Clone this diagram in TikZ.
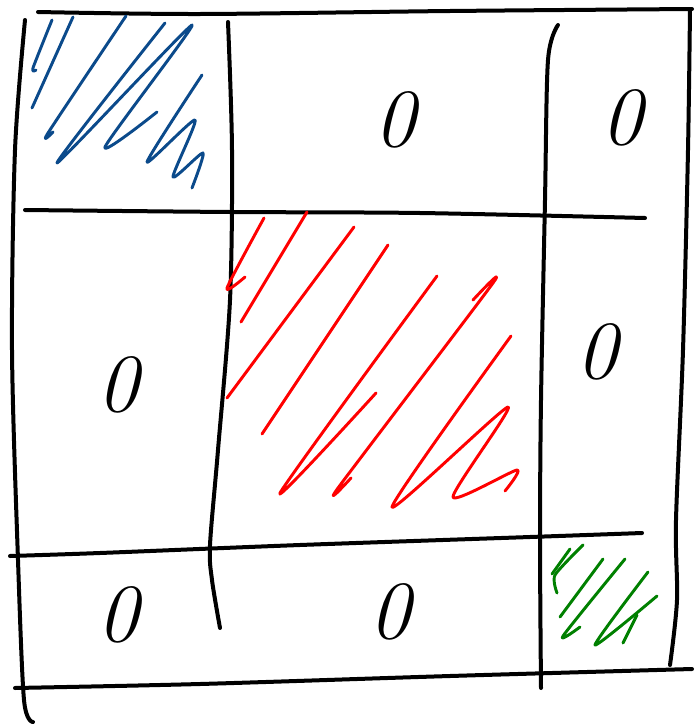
\documentclass[tikz,border=0pt]{standalone}
\usepackage{tikz}
\usetikzlibrary{positioning}
\definecolor{blkBlue}{HTML}{0B4A8B}
\definecolor{blkRed}{HTML}{FF0000}
\definecolor{blkGreen}{HTML}{008000}

\begin{document}
\begin{tikzpicture}[x=0.75pt, y=-0.75pt,
  rule/.style={line width=3pt, line cap=round, line join=round},
  hatch/.style={line width=2.2pt, line cap=round, line join=round},
  zero/.style={font=\fontsize{62}{62}\selectfont\itshape, inner sep=0pt}]
  \useasboundingbox (0,0) rectangle (699,725);
  % grid lines
  \draw[rule] plot[smooth] coordinates {(38,12) (200,14) (450,11) (692,9)};
  \draw[rule] plot[smooth] coordinates {(25,20) (15,150) (12,350) (18,560) (24,700) (33,722)};
  \draw[rule] plot[smooth] coordinates {(690,9) (688,150) (683,350) (676,520) (677,600) (670,665)};
  \draw[rule] plot[smooth] coordinates {(15,688) (200,684) (450,676) (692,669)};
  \draw[rule] plot[smooth] coordinates {(228,22) (232,150) (230,300) (218,450) (210,545) (212,580) (220,628)};
  \draw[rule] plot[smooth] coordinates {(558,25) (548,60) (545,200) (541,400) (540,540) (541,688)};
  \draw[rule] plot[smooth] coordinates {(25,210) (230,212) (420,213) (645,218)};
  \draw[rule] plot[smooth] coordinates {(10,556) (100,553) (300,545) (530,537) (642,533)};
  % blue block
  \begin{scope}[hatch, blkBlue]
    \draw plot[smooth, tension=0.4] coordinates {(52,20) (33,68) (36,70)};
    \draw plot[smooth, tension=0.4] coordinates {(73,17) (32,108)};
    \draw plot[smooth, tension=0.4] coordinates {(126,16) (48,133) (53,132)};
    \draw plot[smooth, tension=0.4] coordinates {(165,23) (57,163) (192,25) (105,147) (157,112)};
    \draw plot[smooth, tension=0.4] coordinates {(202,75) (147,162) (195,120) (173,177) (203,153) (192,188)};
  \end{scope}
  % red block
  \begin{scope}[hatch, blkRed]
    \draw plot[smooth, tension=0.4] coordinates {(264,218) (227,288) (245,277)};
    \draw plot[smooth, tension=0.4] coordinates {(307,212) (241,322)};
    \draw plot[smooth, tension=0.4] coordinates {(354,227) (227,398)};
    \draw plot[smooth, tension=0.4] coordinates {(388,245) (262,434)};
    \draw plot[smooth, tension=0.4] coordinates {(437,276) (280,493) (376,393)};
    \draw plot[smooth, tension=0.4] coordinates {(473,300) (493,283) (338,488) (351,478)};
    \draw plot[smooth, tension=0.4] coordinates {(511,336) (392,507) (508,407) (453,497) (517,470) (505,491)};
  \end{scope}
  % green block
  \begin{scope}[hatch, blkGreen]
    \draw plot[smooth, tension=0.4] coordinates {(570,549) (552,574)};
    \draw plot[smooth, tension=0.4] coordinates {(583,545) (555,575) (557,593)};
    \draw plot[smooth, tension=0.4] coordinates {(603,559) (560,617)};
    \draw plot[smooth, tension=0.4] coordinates {(625,559) (563,636) (580,627)};
    \draw plot[smooth, tension=0.4] coordinates {(648,572) (595,645) (657,596)};
    \draw plot[smooth, tension=0.4] coordinates {(637,615) (623,643)};
  \end{scope}
  % zero blocks
  \foreach \name/\x/\y in {z12/395/120, z13/622/118, z21/118/385, z23/597/352, z31/118/615, z32/390/612}{
    \node[zero] (\name) at (\x,\y) {0};
  }
\end{tikzpicture}
\end{document}
